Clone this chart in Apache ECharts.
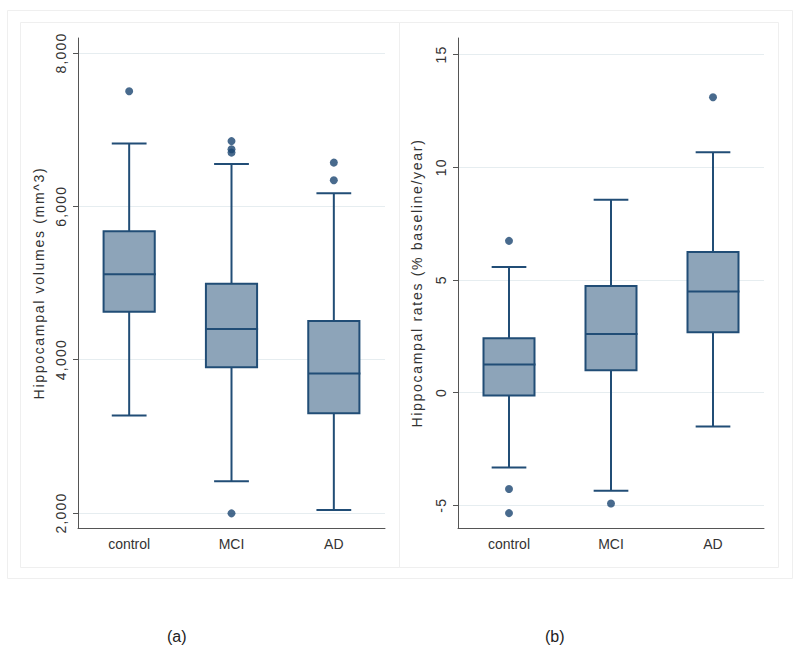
<!DOCTYPE html>
<html>
<head>
<meta charset="utf-8">
<script src="https://cdn.jsdelivr.net/npm/echarts@6/dist/echarts.min.js"></script>
<style>
html,body{margin:0;padding:0;background:#fff;}
#chart{width:800px;height:653px;}
#chart text[style*="ttlfont"]{letter-spacing:1.7px;}
#chart text[style*="tickfont"]{letter-spacing:1.2px;}
</style>
</head>
<body>
<div id="chart"></div>
<script>
// ---- data ----
const categories = ['control', 'MCI', 'AD'];
// [min whisker, Q1, median, Q3, max whisker]
const volumeBoxes = [
  [3270, 4625, 5115, 5675, 6820],
  [2415, 3900, 4400, 4990, 6550],
  [2040, 3300, 3820, 4505, 6170]
];
// [category index, value]
const volumeOutliers = [
  [0, 7500],
  [1, 6850], [1, 6745], [1, 6700], [1, 1995],
  [2, 6570], [2, 6340]
];
const rateBoxes = [
  [-3.33, -0.13, 1.24, 2.41, 5.57],
  [-4.36, 0.99, 2.60, 4.73, 8.55],
  [-1.51, 2.68, 4.48, 6.24, 10.66]
];
const rateOutliers = [
  [0, 6.73], [0, -4.28], [0, -5.35],
  [1, -4.92],
  [2, 13.1]
];
const volumeTicks = [2000, 4000, 6000, 8000];
const rateTicks = [-5, 0, 5, 10, 15];
const volumeTitle = 'Hippocampal volumes (mm^3)';
const rateTitle = 'Hippocampal rates (% baseline/year)';
const panelLabels = ['(a)', '(b)'];

// ---- styling ----
const BOX_FILL = '#8da4b9';
const BOX_STROKE = '#214d76';
const DOT = '#1a4570';
const GRID_LINE = '#e6edf0';
const AXIS = '#555';
const TXT = '#333';

function boxRender(params, api) {
  const idx = api.value(0);
  const mn = api.coord([idx, api.value(1)]);
  const q1 = api.coord([idx, api.value(2)]);
  const md = api.coord([idx, api.value(3)]);
  const q3 = api.coord([idx, api.value(4)]);
  const mx = api.coord([idx, api.value(5)]);
  const band = api.size([1, 0])[0];
  const bw = band * 0.5;
  const cw = band * 0.34;
  const x = mn[0];
  const ls = {stroke: BOX_STROKE, lineWidth: 2};
  return {
    type: 'group',
    children: [
      {type: 'line', shape: {x1: x, y1: mx[1], x2: x, y2: q3[1]}, style: ls},
      {type: 'line', shape: {x1: x, y1: q1[1], x2: x, y2: mn[1]}, style: ls},
      {type: 'line', shape: {x1: x - cw / 2, y1: mx[1], x2: x + cw / 2, y2: mx[1]}, style: ls},
      {type: 'line', shape: {x1: x - cw / 2, y1: mn[1], x2: x + cw / 2, y2: mn[1]}, style: ls},
      {type: 'rect', shape: {x: x - bw / 2, y: q3[1], width: bw, height: q1[1] - q3[1]},
        style: {fill: BOX_FILL, stroke: BOX_STROKE, lineWidth: 2}},
      {type: 'line', shape: {x1: x - bw / 2, y1: md[1], x2: x + bw / 2 + 1, y2: md[1]}, style: ls}
    ]
  };
}

function yAxisDef(gridIndex, min, max, ticks, name, fmt, gap) {
  return {
    type: 'value', gridIndex, min, max,
    name, nameLocation: 'middle', nameGap: gap,
    nameTextStyle: {fontFamily: 'Liberation Sans, ttlfont', fontSize: 14, color: TXT},
    axisLine: {show: true, onZero: false, lineStyle: {color: AXIS, width: 1}},
    axisTick: {show: true, length: 5, customValues: ticks, lineStyle: {color: AXIS}},
    axisLabel: {customValues: ticks, rotate: 90, margin: 10, formatter: fmt,
      fontFamily: 'Liberation Sans, tickfont', fontSize: 14, color: TXT},
    splitLine: {show: true, lineStyle: {color: GRID_LINE, width: 1}}
  };
}

function xAxisDef(gridIndex) {
  return {
    type: 'category', gridIndex, data: categories, boundaryGap: true,
    axisLine: {show: true, onZero: false, lineStyle: {color: AXIS, width: 1}},
    axisTick: {show: false},
    axisLabel: {margin: 9, fontFamily: 'Liberation Sans', fontSize: 14, color: TXT},
    splitLine: {show: false}
  };
}

const chart = echarts.init(document.getElementById('chart'), null, {renderer: 'svg'});
chart.setOption({
  backgroundColor: '#fff',
  animation: false,
  grid: [
    {left: 78, top: 38, width: 307, height: 490},
    {left: 458, top: 38, width: 306, height: 490}
  ],
  xAxis: [xAxisDef(0), xAxisDef(1)],
  yAxis: [
    yAxisDef(0, 1804, 8195, volumeTicks, volumeTitle, v => Number(v).toLocaleString('en-US'), 32),
    yAxisDef(1, -6.01, 15.73, rateTicks, rateTitle, v => String(v), 34)
  ],
  graphic: [
    {type: 'rect', z: -10, shape: {x: 7.5, y: 10.5, width: 785, height: 568}, style: {fill: 'none', stroke: '#efefef', lineWidth: 1}},
    {type: 'rect', z: -10, shape: {x: 20.5, y: 22.5, width: 379, height: 545}, style: {fill: 'none', stroke: '#efefef', lineWidth: 1}},
    {type: 'rect', z: -10, shape: {x: 399.5, y: 22.5, width: 379, height: 545}, style: {fill: 'none', stroke: '#efefef', lineWidth: 1}},
    {type: 'text', left: 167, top: 628, style: {text: panelLabels[0], font: '16px "Liberation Sans"', fill: '#222'}},
    {type: 'text', left: 545, top: 628, style: {text: panelLabels[1], font: '16px "Liberation Sans"', fill: '#222'}}
  ],
  series: [
    {type: 'custom', xAxisIndex: 0, yAxisIndex: 0, renderItem: boxRender,
      encode: {x: 0, y: [1, 2, 3, 4, 5]},
      data: volumeBoxes.map((b, i) => [i].concat(b))},
    {type: 'scatter', xAxisIndex: 0, yAxisIndex: 0, symbolSize: 8, clip: false,
      itemStyle: {color: DOT}, data: volumeOutliers},
    {type: 'custom', xAxisIndex: 1, yAxisIndex: 1, renderItem: boxRender,
      encode: {x: 0, y: [1, 2, 3, 4, 5]},
      data: rateBoxes.map((b, i) => [i].concat(b))},
    {type: 'scatter', xAxisIndex: 1, yAxisIndex: 1, symbolSize: 8, clip: false,
      itemStyle: {color: DOT}, data: rateOutliers}
  ]
});
</script>
</body>
</html>
